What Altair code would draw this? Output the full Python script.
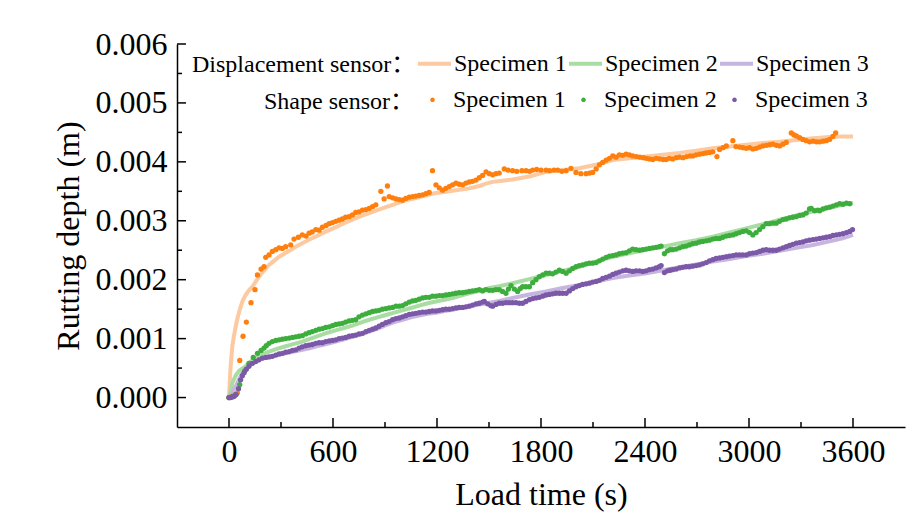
import altair as alt
import pandas as pd

SERIES = ["Specimen 1", "Specimen 2", "Specimen 3"]
LINE_COLORS = ["#FDC9A0", "#A9DCA2", "#C6B5DE"]
DOT_COLORS = ["#FF7F0E", "#3DAE3D", "#7B59A8"]

# Displacement sensor (time s, rutting depth mm)
DISP_1 = [(0, 0.00), (5, 0.30), (10, 0.55), (19, 0.87), (29, 1.05), (39, 1.21), (50, 1.36), (67, 1.54),
          (80, 1.65), (96, 1.74), (115, 1.82), (135, 1.88), (155, 1.97), (173, 2.05), (200, 2.15),
          (231, 2.25), (260, 2.32), (289, 2.39), (318, 2.44), (347, 2.49), (385, 2.56), (423, 2.62),
          (470, 2.69), (520, 2.76), (568, 2.83), (616, 2.89), (664, 2.96), (712, 3.02), (760, 3.08),
          (809, 3.13), (857, 3.18), (905, 3.23), (953, 3.28), (1001, 3.33), (1050, 3.37), (1097, 3.40),
          (1146, 3.44), (1194, 3.47), (1242, 3.49), (1290, 3.51), (1338, 3.53), (1386, 3.55), (1444, 3.59),
          (1483, 3.63), (1521, 3.66), (1580, 3.68), (1636, 3.70), (1732, 3.75), (1829, 3.83), (1925, 3.86),
          (2021, 3.89), (2118, 3.95), (2214, 4.03), (2310, 4.06), (2407, 4.09), (2503, 4.12), (2599, 4.15),
          (2695, 4.19), (2791, 4.23), (2888, 4.26), (2984, 4.29), (3080, 4.32), (3177, 4.34), (3273, 4.37),
          (3369, 4.40), (3465, 4.42), (3540, 4.43), (3600, 4.43)]
DISP_2 = [(0, 0.00), (10, 0.12), (19, 0.25), (40, 0.38), (60, 0.46), (96, 0.53), (125, 0.61), (154, 0.67),
          (190, 0.73), (231, 0.78), (280, 0.83), (327, 0.87), (375, 0.91), (423, 0.95), (470, 1.00),
          (520, 1.05), (568, 1.10), (616, 1.14), (664, 1.18), (712, 1.22), (760, 1.27), (809, 1.32),
          (857, 1.36), (905, 1.40), (953, 1.44), (1001, 1.48), (1050, 1.52), (1097, 1.56), (1146, 1.60),
          (1194, 1.63), (1242, 1.66), (1290, 1.69), (1338, 1.73), (1386, 1.77), (1444, 1.81), (1502, 1.86),
          (1560, 1.89), (1636, 1.94), (1732, 2.01), (1829, 2.08), (1925, 2.15), (2021, 2.22), (2118, 2.31),
          (2214, 2.39), (2310, 2.45), (2407, 2.51), (2503, 2.56), (2599, 2.62), (2695, 2.67), (2791, 2.73),
          (2888, 2.80), (2984, 2.87), (3080, 2.94), (3177, 3.02), (3273, 3.09), (3369, 3.16), (3465, 3.22),
          (3540, 3.27), (3600, 3.30)]
DISP_3 = [(0, 0.00), (10, 0.06), (20, 0.10), (39, 0.19), (60, 0.32), (77, 0.42), (100, 0.50), (135, 0.58),
          (180, 0.65), (231, 0.69), (280, 0.72), (327, 0.75), (375, 0.78), (423, 0.81), (470, 0.84),
          (520, 0.88), (568, 0.91), (616, 0.95), (664, 0.99), (712, 1.03), (760, 1.07), (809, 1.12),
          (857, 1.17), (905, 1.23), (953, 1.28), (1001, 1.32), (1050, 1.36), (1097, 1.39), (1146, 1.42),
          (1194, 1.44), (1242, 1.47), (1290, 1.49), (1338, 1.52), (1386, 1.55), (1444, 1.58), (1502, 1.61),
          (1560, 1.64), (1636, 1.69), (1732, 1.75), (1829, 1.80), (1925, 1.86), (2021, 1.91), (2118, 1.97),
          (2214, 2.03), (2310, 2.07), (2407, 2.11), (2503, 2.16), (2599, 2.21), (2695, 2.26), (2791, 2.31),
          (2888, 2.35), (2984, 2.40), (3080, 2.44), (3177, 2.49), (3273, 2.54), (3369, 2.59), (3465, 2.65),
          (3540, 2.70), (3600, 2.76)]

# Shape sensor (time s, rutting depth mm)
SHAPE_1 = [(0, 0.00), (15, 0.02), (35, 0.05), (48, 0.08), (62, 0.63), (81, 1.04), (100, 1.28), (127, 1.61),
           (150, 1.83), (164, 2.08), (185, 2.18), (202, 2.22), (212, 2.38), (231, 2.42), (250, 2.48),
           (270, 2.51), (289, 2.54), (308, 2.53), (327, 2.56), (356, 2.59), (375, 2.69), (400, 2.72),
           (423, 2.76), (445, 2.74), (462, 2.79), (480, 2.81), (501, 2.85), (520, 2.84), (539, 2.89),
           (560, 2.92), (578, 2.95), (597, 2.97), (616, 2.99), (635, 3.01), (654, 3.03), (673, 3.06),
           (693, 3.07), (712, 3.10), (731, 3.14), (750, 3.15), (770, 3.18), (790, 3.19), (809, 3.21),
           (828, 3.24), (847, 3.27), (876, 3.50), (895, 3.37), (914, 3.59), (924, 3.41), (944, 3.39),
           (963, 3.37), (982, 3.36), (1001, 3.35), (1020, 3.38), (1040, 3.40), (1060, 3.41), (1078, 3.42),
           (1097, 3.43), (1117, 3.44), (1136, 3.46), (1155, 3.48), (1174, 3.85), (1194, 3.61), (1213, 3.56),
           (1232, 3.52), (1251, 3.55), (1271, 3.58), (1290, 3.61), (1309, 3.64), (1328, 3.62), (1348, 3.61),
           (1367, 3.64), (1386, 3.66), (1405, 3.67), (1425, 3.69), (1444, 3.73), (1463, 3.77), (1483, 3.83),
           (1502, 3.80), (1521, 3.78), (1540, 3.80), (1559, 3.81), (1588, 3.88), (1610, 3.86), (1636, 3.85),
           (1660, 3.84), (1690, 3.85), (1714, 3.85), (1735, 3.84), (1752, 3.86), (1775, 3.87), (1800, 3.86),
           (1829, 3.86), (1850, 3.85), (1875, 3.86), (1896, 3.86), (1920, 3.84), (1945, 3.85), (1973, 3.89),
           (2002, 3.82), (2030, 3.80), (2060, 3.80), (2080, 3.81), (2098, 3.82), (2118, 3.88), (2137, 3.95),
           (2156, 3.99), (2176, 4.03), (2195, 4.06), (2214, 4.10), (2233, 4.08), (2252, 4.12), (2271, 4.11),
           (2291, 4.13), (2310, 4.12), (2329, 4.10), (2350, 4.09), (2370, 4.08), (2390, 4.07), (2407, 4.06),
           (2425, 4.05), (2445, 4.04), (2465, 4.06), (2485, 4.05), (2505, 4.04), (2522, 4.04), (2540, 4.06),
           (2560, 4.05), (2580, 4.07), (2599, 4.08), (2620, 4.07), (2640, 4.09), (2660, 4.10), (2676, 4.10),
           (2695, 4.12), (2715, 4.13), (2735, 4.14), (2753, 4.15), (2772, 4.16), (2791, 4.17), (2815, 4.09),
           (2830, 4.21), (2850, 4.24), (2869, 4.27), (2907, 4.36), (2925, 4.26), (2946, 4.25), (2965, 4.24),
           (2984, 4.23), (3003, 4.24), (3022, 4.22), (3042, 4.23), (3061, 4.25), (3080, 4.27), (3100, 4.28),
           (3120, 4.29), (3138, 4.30), (3158, 4.28), (3177, 4.27), (3196, 4.30), (3215, 4.33), (3244, 4.49),
           (3258, 4.46), (3273, 4.44), (3292, 4.41), (3311, 4.38), (3330, 4.36), (3350, 4.34), (3370, 4.35),
           (3390, 4.34), (3408, 4.34), (3427, 4.35), (3446, 4.36), (3465, 4.38), (3484, 4.43), (3500, 4.49)]
SHAPE_2 = [(0, 0.00), (20, 0.02), (40, 0.05), (62, 0.22), (90, 0.45), (115, 0.58), (140, 0.68), (164, 0.75),
           (185, 0.80), (202, 0.84), (215, 0.88), (231, 0.92), (250, 0.95), (270, 0.97), (289, 0.98),
           (308, 0.99), (327, 1.00), (347, 1.01), (366, 1.02), (385, 1.03), (404, 1.04), (423, 1.05),
           (443, 1.08), (462, 1.10), (481, 1.12), (501, 1.14), (520, 1.16), (539, 1.17), (558, 1.19),
           (578, 1.20), (597, 1.22), (616, 1.24), (635, 1.25), (654, 1.26), (673, 1.28), (693, 1.30),
           (712, 1.31), (731, 1.32), (750, 1.37), (770, 1.40), (790, 1.42), (809, 1.44), (828, 1.46),
           (847, 1.47), (866, 1.48), (885, 1.50), (905, 1.51), (924, 1.52), (944, 1.53), (963, 1.55),
           (982, 1.55), (1001, 1.56), (1020, 1.59), (1040, 1.62), (1059, 1.64), (1078, 1.65), (1097, 1.67),
           (1117, 1.69), (1136, 1.70), (1155, 1.70), (1174, 1.72), (1194, 1.72), (1213, 1.73), (1232, 1.73),
           (1251, 1.74), (1271, 1.75), (1290, 1.76), (1309, 1.77), (1328, 1.78), (1348, 1.78), (1367, 1.79),
           (1386, 1.80), (1405, 1.81), (1425, 1.82), (1444, 1.83), (1463, 1.81), (1483, 1.83), (1502, 1.82),
           (1521, 1.82), (1540, 1.83), (1559, 1.83), (1578, 1.80), (1598, 1.77), (1612, 1.84), (1627, 1.90),
           (1646, 1.84), (1665, 1.80), (1680, 1.85), (1694, 1.88), (1713, 1.88), (1733, 1.88), (1752, 1.95),
           (1771, 2.00), (1790, 2.05), (1810, 2.08), (1829, 2.11), (1848, 2.11), (1867, 2.10), (1886, 2.13),
           (1906, 2.16), (1925, 2.14), (1945, 2.11), (1964, 2.15), (1983, 2.19), (2002, 2.22), (2021, 2.24),
           (2040, 2.25), (2060, 2.27), (2079, 2.28), (2098, 2.28), (2118, 2.29), (2137, 2.32), (2156, 2.35),
           (2176, 2.38), (2195, 2.40), (2214, 2.41), (2233, 2.42), (2252, 2.44), (2272, 2.45), (2291, 2.46),
           (2310, 2.49), (2329, 2.52), (2348, 2.51), (2368, 2.50), (2387, 2.51), (2406, 2.52), (2425, 2.53),
           (2445, 2.54), (2464, 2.55), (2483, 2.56), (2493, 2.57), (2512, 2.44), (2530, 2.49), (2545, 2.51),
           (2560, 2.51), (2580, 2.52), (2599, 2.54), (2618, 2.56), (2637, 2.57), (2656, 2.59), (2675, 2.61),
           (2695, 2.62), (2714, 2.64), (2733, 2.65), (2753, 2.66), (2772, 2.67), (2791, 2.69), (2810, 2.70),
           (2830, 2.70), (2849, 2.72), (2868, 2.74), (2887, 2.75), (2907, 2.76), (2926, 2.78), (2945, 2.80),
           (2964, 2.82), (2984, 2.83), (3003, 2.80), (3022, 2.76), (3041, 2.80), (3061, 2.85), (3080, 2.90),
           (3099, 2.95), (3118, 2.95), (3138, 2.96), (3157, 2.96), (3176, 2.99), (3196, 3.02), (3215, 3.03),
           (3234, 3.05), (3253, 3.06), (3272, 3.07), (3292, 3.09), (3311, 3.10), (3330, 3.13), (3349, 3.20),
           (3359, 3.21), (3378, 3.17), (3397, 3.18), (3408, 3.17), (3427, 3.20), (3446, 3.22), (3465, 3.23),
           (3484, 3.25), (3504, 3.27), (3523, 3.29), (3542, 3.28), (3562, 3.30), (3581, 3.29)]
SHAPE_3 = [(0, 0.00), (10, 0.00), (20, 0.01), (30, 0.02), (40, 0.05), (55, 0.15), (67, 0.30), (77, 0.37),
           (87, 0.42), (100, 0.48), (115, 0.53), (135, 0.58), (154, 0.61), (173, 0.64), (193, 0.67),
           (212, 0.68), (231, 0.69), (250, 0.70), (270, 0.72), (289, 0.74), (308, 0.75), (327, 0.77),
           (347, 0.78), (366, 0.80), (385, 0.81), (404, 0.84), (423, 0.86), (443, 0.88), (462, 0.89),
           (481, 0.90), (501, 0.92), (520, 0.93), (539, 0.93), (558, 0.95), (578, 0.96), (597, 0.97),
           (616, 0.98), (635, 1.00), (654, 1.01), (673, 1.02), (693, 1.04), (712, 1.05), (731, 1.06),
           (750, 1.08), (770, 1.09), (790, 1.12), (809, 1.14), (828, 1.16), (847, 1.18), (866, 1.21),
           (885, 1.24), (905, 1.27), (924, 1.29), (944, 1.32), (963, 1.34), (982, 1.35), (1001, 1.37),
           (1020, 1.39), (1040, 1.41), (1059, 1.42), (1078, 1.43), (1097, 1.44), (1117, 1.45), (1136, 1.45),
           (1155, 1.46), (1174, 1.47), (1194, 1.47), (1213, 1.48), (1232, 1.49), (1251, 1.50), (1271, 1.50),
           (1290, 1.51), (1309, 1.52), (1328, 1.53), (1348, 1.53), (1367, 1.54), (1386, 1.55), (1405, 1.57),
           (1425, 1.59), (1444, 1.60), (1463, 1.62), (1473, 1.63), (1492, 1.59), (1510, 1.56), (1521, 1.55),
           (1540, 1.58), (1559, 1.60), (1578, 1.60), (1598, 1.61), (1617, 1.61), (1636, 1.61), (1656, 1.61),
           (1675, 1.60), (1694, 1.60), (1713, 1.63), (1733, 1.66), (1752, 1.68), (1771, 1.69), (1790, 1.70),
           (1810, 1.72), (1829, 1.74), (1848, 1.75), (1867, 1.76), (1886, 1.77), (1906, 1.77), (1925, 1.77),
           (1945, 1.77), (1964, 1.81), (1983, 1.85), (2002, 1.88), (2021, 1.90), (2040, 1.92), (2060, 1.93),
           (2079, 1.94), (2098, 1.96), (2118, 1.97), (2137, 1.99), (2156, 2.02), (2176, 2.04), (2195, 2.06),
           (2214, 2.09), (2233, 2.11), (2252, 2.13), (2272, 2.15), (2291, 2.16), (2310, 2.15), (2329, 2.14),
           (2348, 2.15), (2368, 2.15), (2387, 2.14), (2406, 2.15), (2425, 2.17), (2445, 2.18), (2464, 2.20),
           (2483, 2.22), (2493, 2.24), (2512, 2.12), (2530, 2.15), (2545, 2.16), (2560, 2.17), (2580, 2.18),
           (2599, 2.20), (2618, 2.21), (2637, 2.22), (2656, 2.22), (2675, 2.23), (2695, 2.24), (2714, 2.25),
           (2733, 2.27), (2753, 2.29), (2772, 2.32), (2791, 2.34), (2810, 2.36), (2830, 2.37), (2849, 2.38),
           (2869, 2.39), (2888, 2.40), (2907, 2.41), (2926, 2.42), (2945, 2.42), (2964, 2.42), (2984, 2.42),
           (3003, 2.44), (3022, 2.45), (3042, 2.46), (3061, 2.48), (3080, 2.50), (3099, 2.51), (3118, 2.50),
           (3138, 2.50), (3157, 2.50), (3176, 2.52), (3196, 2.54), (3215, 2.56), (3234, 2.58), (3253, 2.60),
           (3273, 2.62), (3292, 2.63), (3311, 2.64), (3330, 2.66), (3349, 2.67), (3369, 2.68), (3388, 2.69),
           (3408, 2.70), (3427, 2.71), (3446, 2.72), (3465, 2.73), (3484, 2.75), (3504, 2.76), (3523, 2.77),
           (3542, 2.78), (3562, 2.80), (3581, 2.82), (3597, 2.85)]

X_MAJOR = [0, 600, 1200, 1800, 2400, 3000, 3600]
X_MINOR = [300, 900, 1500, 2100, 2700, 3300]
Y_MAJOR = [0.0, 0.001, 0.002, 0.003, 0.004, 0.005, 0.006]
Y_MINOR = [0.0005, 0.0015, 0.0025, 0.0035, 0.0045, 0.0055]

FONT = "Liberation Serif"
FONT_LEG = "Liberation Serif, Noto Sans CJK SC"
W, H = 728, 383


def long_df(arrays, key):
    rows = []
    for name, arr in zip(SERIES, arrays):
        for t, v in arr:
            rows.append({"t": t, "depth": v / 1000.0, key: name})
    return pd.DataFrame(rows)


lines_df = long_df([DISP_1, DISP_2, DISP_3], "disp_series")
shape_df = long_df([SHAPE_1, SHAPE_2, SHAPE_3], "shape_series")

xs = alt.Scale(domain=[-300, 3900], nice=False, zero=False)
ys = alt.Scale(domain=[-0.0005, 0.006], nice=False, zero=False)

X_AXIS = alt.Axis(values=X_MAJOR, format="d", title="Load time (s)", titleFont=FONT, titleFontSize=32,
                  titleFontWeight="normal", titleColor="black", titlePadding=12,
                  labelFont=FONT, labelFontSize=32, labelColor="black", labelPadding=9,
                  ticks=False, grid=False, domainColor="black", domainWidth=1.5,
                  labelFlush=False, labelOverlap=False)
Y_AXIS = alt.Axis(values=Y_MAJOR, format=".3f", title="Rutting depth (m)", titleFont=FONT,
                  titleFontSize=32, titleFontWeight="normal", titleColor="black", titlePadding=10,
                  labelFont=FONT, labelFontSize=32, labelColor="black", labelPadding=10,
                  ticks=False, grid=False, domainColor="black", domainWidth=1.5,
                  labelFlush=False, labelOverlap=False)

LEG_COMMON = dict(orient="none", direction="horizontal", columns=3, titleOrient="left",
                  titleAnchor="middle", titleBaseline="line-top", titleLineHeight=10.5,
                  titleFont=FONT_LEG, titleFontSize=24, titleFontWeight="normal", titleColor="black",
                  titleLimit=400, labelFont=FONT, labelFontSize=24, labelColor="black",
                  labelLimit=300, symbolSize=1089, rowPadding=0, padding=0)

leg_lines = alt.Legend(title="Displacement sensor：", legendX=15, legendY=1, symbolType="stroke",
                       symbolStrokeWidth=4, titlePadding=0, labelOffset=1, columnPadding=-7,
                       **LEG_COMMON)
DOT_PATH = "M-1,0M1,0M-0.14,0A0.14,0.14,0,1,1,0.14,0A0.14,0.14,0,1,1,-0.14,0Z"
leg_dots = alt.Legend(title="Shape sensor：", legendX=87, legendY=39, symbolType=DOT_PATH,
                      symbolStrokeWidth=0, titlePadding=2, labelOffset=4, columnPadding=1,
                      **LEG_COMMON)

x_major = alt.Chart(pd.DataFrame({"t": X_MAJOR})).mark_rule(color="black", strokeWidth=1.5).encode(
    x=alt.X("t:Q", scale=xs, axis=X_AXIS), y=alt.value(H), y2=alt.value(H - 9))
x_minor = alt.Chart(pd.DataFrame({"t": X_MINOR})).mark_rule(color="black", strokeWidth=1.5).encode(
    x=alt.X("t:Q", scale=xs, axis=X_AXIS), y=alt.value(H), y2=alt.value(H - 5))
y_major = alt.Chart(pd.DataFrame({"depth": Y_MAJOR})).mark_rule(color="black", strokeWidth=1.5).encode(
    y=alt.Y("depth:Q", scale=ys, axis=Y_AXIS), x=alt.value(0), x2=alt.value(9))
y_minor = alt.Chart(pd.DataFrame({"depth": Y_MINOR})).mark_rule(color="black", strokeWidth=1.5).encode(
    y=alt.Y("depth:Q", scale=ys, axis=Y_AXIS), x=alt.value(0), x2=alt.value(5))

lines = alt.Chart(lines_df).mark_line(strokeWidth=4).encode(
    x=alt.X("t:Q", scale=xs, axis=X_AXIS),
    y=alt.Y("depth:Q", scale=ys, axis=Y_AXIS),
    stroke=alt.Stroke("disp_series:N", scale=alt.Scale(domain=SERIES, range=LINE_COLORS),
                      legend=leg_lines),
)

points = alt.Chart(shape_df).mark_circle(size=28, opacity=1).encode(
    x=alt.X("t:Q", scale=xs, axis=X_AXIS),
    y=alt.Y("depth:Q", scale=ys, axis=Y_AXIS),
    fill=alt.Fill("shape_series:N", scale=alt.Scale(domain=SERIES, range=DOT_COLORS),
                  legend=leg_dots),
)

chart = alt.layer(x_major, x_minor, y_major, y_minor, lines, points).properties(
    width=W, height=H,
    autosize=alt.AutoSizeParams(type="none"),
    padding={"left": 177, "top": 44, "right": 18, "bottom": 103},
).resolve_legend(stroke="independent", fill="independent").configure_view(stroke=None)

chart.save("out.html", embed_options={"renderer": "svg", "actions": False})
